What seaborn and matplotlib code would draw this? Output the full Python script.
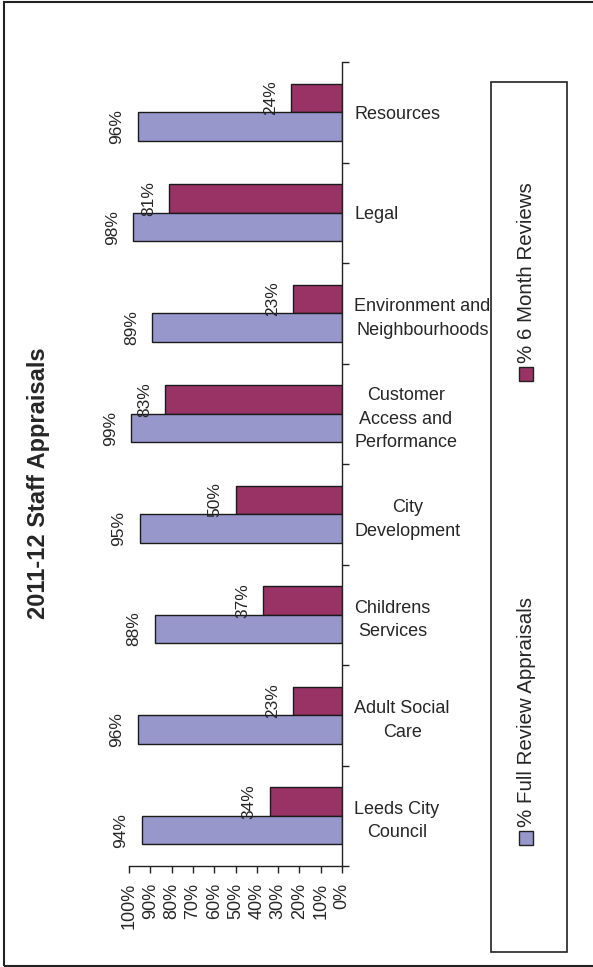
import pandas as pd
import matplotlib.pyplot as plt
import matplotlib.patches as mpatches
import seaborn as sns

sns.set_style("white")
plt.rcParams["font.family"] = ["Liberation Sans", "DejaVu Sans"]

# chart data (top to bottom as drawn)
departments = [
    "Resources",
    "Legal",
    "Environment and\nNeighbourhoods",
    "Customer\nAccess and\nPerformance",
    "City\nDevelopment",
    "Childrens\nServices",
    "Adult Social\nCare",
    "Leeds City\nCouncil",
]
full_review = [96, 98, 89, 99, 95, 88, 96, 94]
six_month = [24, 81, 23, 83, 50, 37, 23, 34]
series_names = ["% 6 Month Reviews", "% Full Review Appraisals"]
series_colors = ["#993366", "#9797CB"]
x_ticks = list(range(0, 101, 10))

df = pd.DataFrame({
    "department": departments * 2,
    "series": [series_names[0]] * len(departments) + [series_names[1]] * len(departments),
    "value": six_month + full_review,
})

W, H = 593, 967
fig = plt.figure(figsize=(W / 100, H / 100), dpi=100)


def px(x, y):
    return x / W, 1 - y / H


ax = fig.add_axes([129 / W, 1 - 866 / H, (342 - 129) / W, (866 - 62) / H])
sns.barplot(
    data=df, y="department", x="value", hue="series",
    order=departments, hue_order=series_names, palette=series_colors,
    orient="h", width=0.57, edgecolor="#1a1a1a", linewidth=1.0,
    saturation=1, legend=False, ax=ax,
)

# value labels, rotated like the rest of the chart
for container in ax.containers:
    for bar in container:
        val = bar.get_width()
        ax.annotate(f"{val:.0f}%", (val, bar.get_y() + bar.get_height() / 2),
                    xytext=(-9.5, 0), textcoords="offset points",
                    rotation=90, ha="right", va="center", fontsize=12.5)

ax.set_xlim(100, 0)
ax.set_ylim(len(departments) - 0.5, -0.5)
ax.set_xticks(x_ticks)
ax.set_xticklabels([f"{t}%" for t in x_ticks], rotation=90, fontsize=13)
ax.set_xlabel("")
ax.set_ylabel("")

# right spine holds the category labels
ax.yaxis.tick_right()
ax.set_yticks([i - 0.5 for i in range(len(departments) + 1)])
ax.set_yticklabels([])
ax.set_yticks(range(len(departments)), minor=True)
ax.set_yticklabels(departments, minor=True, fontsize=13)
for lab in ax.get_yticklabels(minor=True):
    lab.set_multialignment("center")
    lab.set_linespacing(1.5)
ax.tick_params(axis="y", which="major", right=True, length=5, width=1, direction="out", color="#222222")
ax.tick_params(axis="y", which="minor", right=True, length=0, pad=9)
ax.tick_params(axis="x", bottom=True, length=5, width=1, direction="out", pad=7, color="#222222")

for side in ["left", "top"]:
    ax.spines[side].set_visible(False)
for side in ["right", "bottom"]:
    ax.spines[side].set_color("#222222")
    ax.spines[side].set_linewidth(1.0)

# title
tx, ty = px(39, 483)
fig.text(tx, ty, "2011-12 Staff Appraisals", rotation=90, ha="center", va="center",
         fontsize=17, fontweight="bold")

# legend box drawn by hand (rotated text)
lx0, ly0 = px(491, 952)
lx1, ly1 = px(567, 82)
fig.patches.append(mpatches.Rectangle((lx0, ly0), lx1 - lx0, ly1 - ly0, transform=fig.transFigure,
                                      fill=False, edgecolor="#222222", linewidth=1.2))
for name, color, marker_y in zip(series_names, series_colors, [367, 831]):
    mx, my = px(519, marker_y + 14)
    fig.patches.append(mpatches.Rectangle((mx, my), 14 / W, 14 / H, transform=fig.transFigure,
                                          facecolor=color, edgecolor="#222222", linewidth=1.0))
    tx, ty = px(526, marker_y - 4)
    fig.text(tx, ty, name, rotation=90, ha="center", va="bottom", fontsize=14.8)

# outer chart border (left, top, bottom visible)
bx0, by0 = px(4, 966)
bx1, by1 = px(600, 2)
fig.patches.append(mpatches.Rectangle((bx0, by0), bx1 - bx0, by1 - by0, transform=fig.transFigure,
                                      fill=False, edgecolor="#222222", linewidth=1.5))

fig.savefig("out.png", dpi=100)
